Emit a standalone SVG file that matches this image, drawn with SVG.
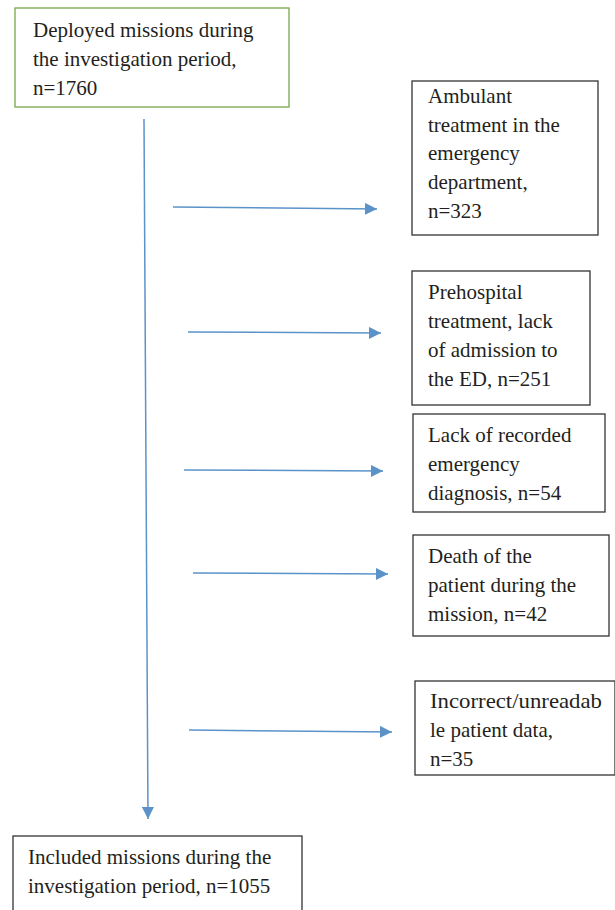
<svg xmlns="http://www.w3.org/2000/svg" width="615" height="910" viewBox="0 0 615 910">
<style>
.box{fill:#fff;stroke:#333;stroke-width:1.3}
.green{fill:#fff;stroke:#77a84a;stroke-width:1.3}
text{font-family:"Liberation Serif","DejaVu Serif",serif;font-size:21px;fill:#231f20}
.conn{stroke:#5b93c9;stroke-width:1.5;fill:none}
</style>
<defs>
<marker id="ah" viewBox="0 0 12 12" refX="12" refY="6" markerWidth="12" markerHeight="12" markerUnits="userSpaceOnUse" orient="auto">
<path d="M0,0 L12,6 L0,12 z" fill="#5b93c9"/>
</marker>
</defs>
<rect width="615" height="910" fill="#fff"/>
<g id="connectors">
<line class="conn" x1="144" y1="119" x2="148" y2="819" marker-end="url(#ah)"/>
<line class="conn" x1="173" y1="207" x2="377" y2="209" marker-end="url(#ah)"/>
<line class="conn" x1="188" y1="332" x2="381" y2="333" marker-end="url(#ah)"/>
<line class="conn" x1="184" y1="470" x2="383" y2="471" marker-end="url(#ah)"/>
<line class="conn" x1="193" y1="573" x2="388" y2="574" marker-end="url(#ah)"/>
<line class="conn" x1="189" y1="730" x2="392" y2="732" marker-end="url(#ah)"/>
</g>
<g id="deployed">
<rect class="green" x="15" y="8" width="274" height="99"/>
<text x="33" y="37">Deployed missions during</text>
<text x="33" y="66">the investigation period,</text>
<text x="33" y="95">n=1760</text>
</g>
<g id="ambulant">
<rect class="box" x="412" y="81" width="186" height="154"/>
<text x="428" y="103">Ambulant</text>
<text x="428" y="132">treatment in the</text>
<text x="428" y="160">emergency</text>
<text x="428" y="189">department,</text>
<text x="428" y="218">n=323</text>
</g>
<g id="prehospital">
<rect class="box" x="412" y="271" width="178" height="134"/>
<text x="428" y="299">Prehospital</text>
<text x="428" y="328">treatment, lack</text>
<text x="428" y="357">of admission to</text>
<text x="428" y="386">the ED, n=251</text>
</g>
<g id="lack">
<rect class="box" x="413" y="414" width="192" height="98"/>
<text x="428" y="442">Lack of recorded</text>
<text x="428" y="471">emergency</text>
<text x="428" y="500">diagnosis, n=54</text>
</g>
<g id="death">
<rect class="box" x="413" y="535" width="196" height="101"/>
<text x="428" y="563">Death of the</text>
<text x="428" y="592">patient during the</text>
<text x="428" y="621">mission, n=42</text>
</g>
<g id="incorrect">
<rect class="box" x="415" y="681" width="200" height="94"/>
<text x="430" y="708" textLength="172" lengthAdjust="spacingAndGlyphs">Incorrect/unreadab</text>
<text x="430" y="737">le patient data,</text>
<text x="430" y="766">n=35</text>
</g>
<g id="included">
<rect class="box" x="13" y="836" width="289" height="80"/>
<text x="28" y="864">Included missions during the</text>
<text x="28" y="893">investigation period, n=1055</text>
</g>
</svg>
